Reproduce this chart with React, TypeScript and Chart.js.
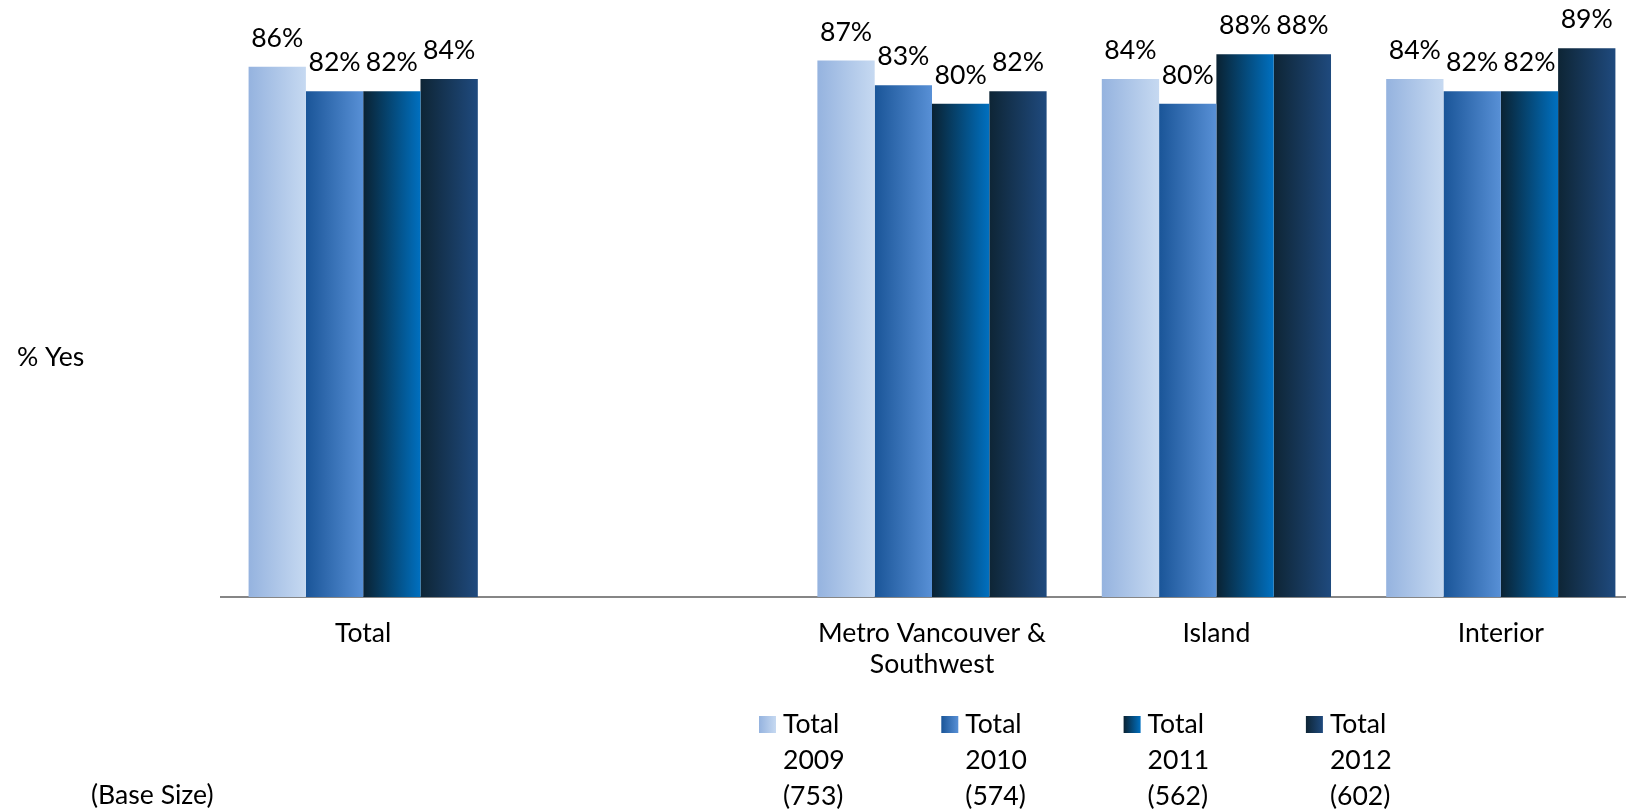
import React, { useEffect, useRef } from "react";
import { Chart, registerables } from "chart.js";

Chart.register(...registerables);

// ---- data ----
const categories: (string | string[])[] = ["Total", "", ["Metro Vancouver &", "Southwest"], "Island", "Interior"];
const total2009: (number | null)[] = [86, null, 87, 84, 84];
const total2010: (number | null)[] = [82, null, 83, 80, 82];
const total2011: (number | null)[] = [82, null, 80, 88, 82];
const total2012: (number | null)[] = [84, null, 82, 88, 89];
const seriesNames: string[] = ["Total", "Total", "Total", "Total"];
const seriesYears: string[] = ["2009", "2010", "2011", "2012"];
const baseSizes: string[] = ["(753)", "(574)", "(562)", "(602)"];
const yAxisTitle = "% Yes";
const baseSizeLabel = "(Base Size)";

// ---- styles ----
const GRADIENTS: string[][] = [
  ["#95B3DF", "#C6D9F1"],
  ["#1A5598", "#5890D6"],
  ["#0A2232", "#0070C0"],
  ["#0E2535", "#1F4A7E"],
];
const CAT_PCT = 0.806;

export default function App() {
  const ref = useRef<HTMLCanvasElement>(null);

  useEffect(() => {
    const canvas = ref.current!;
    const m = document.createElement("canvas").getContext("2d")!;
    m.font = "100px Lato";
    const w = m.measureText("Metro Vancouver &").width;
    const fs = Math.round(((100 * 228) / w) * 10) / 10;
    const FONT = `${fs}px Lato`;

    const seriesData = [total2009, total2010, total2011, total2012];

    const makeBg = (di: number) => (ctx: any) => {
      const chart = ctx.chart;
      const xs = chart.scales && chart.scales.x;
      const [c0, c1] = GRADIENTS[di];
      if (!xs || ctx.dataIndex === undefined || !chart.chartArea) return c1;
      const center = xs.getPixelForValue(ctx.dataIndex);
      const catW = xs.width / categories.length;
      const group = catW * CAT_PCT;
      const bw = group / seriesData.length;
      const left = center - group / 2 + di * bw;
      const g = chart.ctx.createLinearGradient(left, 0, left + bw, 0);
      g.addColorStop(0, c0);
      g.addColorStop(1, c1);
      return g;
    };

    const extras = {
      id: "extras",
      afterDatasetsDraw(chart: any) {
        const c = chart.ctx;
        c.save();
        c.font = FONT;
        c.fillStyle = "#000";
        c.textAlign = "center";
        c.textBaseline = "alphabetic";
        chart.data.datasets.forEach((ds: any, di: number) => {
          const meta = chart.getDatasetMeta(di);
          meta.data.forEach((el: any, i: number) => {
            const v = ds.data[i];
            if (v === null || v === undefined) return;
            c.fillText(`${v}%`, el.x, el.y - 20);
          });
        });
        c.restore();
      },
      afterDraw(chart: any) {
        const c = chart.ctx;
        c.save();
        c.font = FONT;
        c.fillStyle = "#000";
        c.textAlign = "left";
        c.textBaseline = "alphabetic";
        c.fillText(yAxisTitle, 17, 366);
        c.fillText(baseSizeLabel, 91, 804);
        for (let i = 0; i < seriesYears.length; i++) {
          const sx = 759 + i * 182.3;
          const g = c.createLinearGradient(sx, 0, sx + 17, 0);
          g.addColorStop(0, GRADIENTS[i][0]);
          g.addColorStop(1, GRADIENTS[i][1]);
          c.fillStyle = g;
          c.fillRect(sx, 716, 17, 17);
          c.fillStyle = "#000";
          c.fillText(seriesNames[i], sx + 24, 732.5);
          c.fillText(seriesYears[i], sx + 24, 769);
          c.fillText(baseSizes[i], sx + 24, 805);
        }
        c.restore();
      },
    };

    const chart = new Chart(canvas, {
      type: "bar",
      data: {
        labels: categories as any,
        datasets: seriesData.map((d, di) => ({
          label: `${seriesNames[di]} ${seriesYears[di]} ${baseSizes[di]}`,
          data: d,
          backgroundColor: makeBg(di) as any,
          borderWidth: 0,
          categoryPercentage: CAT_PCT,
          barPercentage: 1,
        })),
      },
      options: {
        responsive: false,
        animation: false,
        devicePixelRatio: 1,
        layout: { padding: { top: 42, left: 221, right: 0, bottom: 0 } },
        plugins: {
          legend: { display: false },
          tooltip: { enabled: false },
          title: { display: false },
        },
        scales: {
          x: {
            grid: { display: false, drawTicks: false },
            border: { display: true, color: "#868686", width: 2 },
            ticks: {
              color: "#000",
              font: { family: "Lato", size: fs, lineHeight: 1.2 },
              padding: 20,
              maxRotation: 0,
              autoSkip: false,
            },
            afterFit: (scale: any) => {
              scale.height = 215;
            },
          },
          y: {
            display: false,
            min: 0,
            max: 90,
          },
        },
      },
      plugins: [extras],
    });

    return () => chart.destroy();
  }, []);

  return (
    <div
      style={{
        position: "fixed",
        left: 0,
        top: 0,
        width: 1626,
        height: 812,
        overflow: "hidden",
        background: "#fff",
      }}
    >
      <canvas ref={ref} width={1643} height={812} style={{ width: 1643, height: 812, display: "block" }} />
    </div>
  );
}
